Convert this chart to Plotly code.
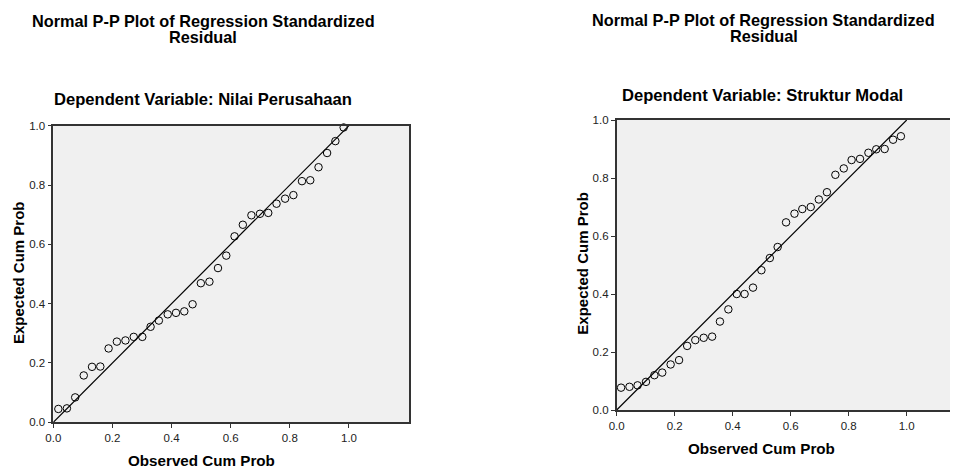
import plotly.graph_objects as go

# ---- data ----
obs_left = [0.017, 0.046, 0.074, 0.103, 0.131, 0.159, 0.187, 0.215, 0.244, 0.272,
            0.301, 0.329, 0.357, 0.387, 0.415, 0.443, 0.471, 0.499, 0.528, 0.557,
            0.585, 0.613, 0.641, 0.670, 0.699, 0.727, 0.755, 0.784, 0.812, 0.841,
            0.869, 0.897, 0.926, 0.954, 0.982]
exp_left = [0.045, 0.047, 0.084, 0.158, 0.187, 0.188, 0.249, 0.272, 0.276, 0.288,
            0.288, 0.322, 0.343, 0.364, 0.369, 0.374, 0.398, 0.469, 0.474, 0.520,
            0.562, 0.627, 0.666, 0.698, 0.703, 0.706, 0.737, 0.754, 0.766, 0.813,
            0.816, 0.860, 0.908, 0.948, 0.994]

obs_right = [0.015, 0.044, 0.072, 0.101, 0.130, 0.157, 0.186, 0.215, 0.243, 0.271,
             0.300, 0.329, 0.356, 0.385, 0.414, 0.441, 0.470, 0.499, 0.528, 0.555,
             0.584, 0.613, 0.640, 0.669, 0.697, 0.725, 0.754, 0.783, 0.810, 0.839,
             0.868, 0.895, 0.924, 0.953, 0.980]
exp_right = [0.077, 0.080, 0.085, 0.097, 0.120, 0.129, 0.157, 0.172, 0.221, 0.241,
             0.249, 0.253, 0.305, 0.347, 0.400, 0.400, 0.422, 0.482, 0.524, 0.562,
             0.647, 0.677, 0.693, 0.700, 0.726, 0.751, 0.811, 0.833, 0.862, 0.866,
             0.887, 0.899, 0.900, 0.932, 0.944]

diag = [0.0, 1.0]
tick_vals = [0.0, 0.2, 0.4, 0.6, 0.8, 1.0]
tick_text = ["0.0", "0.2", "0.4", "0.6", "0.8", "1.0"]

title_line1 = "Normal P-P Plot of Regression Standardized"
title_line2 = "Residual"
sub_left = "Dependent Variable: Nilai Perusahaan"
sub_right = "Dependent Variable: Struktur Modal"
x_title = "Observed Cum Prob"
y_title = "Expected Cum Prob"

# page body has an 8px default margin -> compensate
OFF = 8
WIN_W, WIN_H = 958, 468
W, H = WIN_W - OFF, WIN_H - OFF
FONT = "Liberation Sans, Arial, sans-serif"

fig = go.Figure()

marker = dict(symbol="circle-open", size=7.5, color="black", line=dict(width=1, color="black"))

fig.add_trace(go.Scatter(x=obs_left, y=exp_left, mode="markers", marker=marker,
                         xaxis="x", yaxis="y", showlegend=False, cliponaxis=False))
fig.add_trace(go.Scatter(x=diag, y=diag, mode="lines", line=dict(color="black", width=1.2),
                         xaxis="x", yaxis="y", showlegend=False))
fig.add_trace(go.Scatter(x=obs_right, y=exp_right, mode="markers", marker=marker,
                         xaxis="x2", yaxis="y2", showlegend=False, cliponaxis=False))
fig.add_trace(go.Scatter(x=diag, y=diag, mode="lines", line=dict(color="black", width=1.2),
                         xaxis="x2", yaxis="y2", showlegend=False))

def px_x(p):
    return (p - OFF) / W

def px_y(p):
    return (H - (p - OFF)) / H

# target plot areas in window pixels
L = dict(x0=53.3, x1=409.3, y0=125.7, y1=422.3)
R = dict(x0=616.7, y0=120.0, y1=410.0)
r_xmax = (WIN_W - R["x0"]) / 290.0

axis_common = dict(
    tickvals=tick_vals, ticktext=tick_text, ticks="outside", ticklen=4, tickwidth=1,
    tickcolor="#333333", showgrid=False, zeroline=False, showline=True,
    linecolor="#333333", linewidth=1.6,
    tickfont=dict(family=FONT, size=11.5, color="#222222"),
)

fig.update_layout(
    width=W, height=H,
    margin=dict(l=0, r=0, t=0, b=0, pad=0, autoexpand=False),
    paper_bgcolor="white",
    plot_bgcolor="#f0f0f0",
    xaxis=dict(domain=[px_x(L["x0"]), px_x(L["x1"])], range=[0, 1.204],
               anchor="y", mirror=True, **axis_common),
    yaxis=dict(domain=[px_y(L["y1"]), px_y(L["y0"])], range=[0, 1.0],
               anchor="x", mirror=True, **axis_common),
    xaxis2=dict(domain=[px_x(R["x0"]), 1.0], range=[0, r_xmax],
                anchor="y2", mirror=True, **axis_common),
    yaxis2=dict(domain=[px_y(R["y1"]), px_y(R["y0"])], range=[0, 1.0],
                anchor="x2", mirror=False, **axis_common),
)

def ann(text, x, y, size, angle=0):
    fig.add_annotation(
        text=f"<b>{text}</b>",
        x=px_x(x), y=px_y(y), xref="paper", yref="paper",
        showarrow=False, xanchor="center", yanchor="middle", textangle=angle,
        font=dict(family=FONT, size=size, color="black"),
    )

ann(title_line1, 203, 20.7, 16.3)
ann(title_line2, 203, 36.7, 16.3)
ann(sub_left, 202.5, 100, 16.6)
ann(title_line1, 763.5, 20.0, 16.3)
ann(title_line2, 763.5, 36.0, 16.3)
ann(sub_right, 762.7, 95, 16.6)
ann(x_title, 201, 460, 15.2)
ann(x_title, 761, 448, 15.2)
ann(y_title, 18, 273, 15, angle=-90)
ann(y_title, 581.7, 263, 15, angle=-90)

fig.write_html("out.html")
